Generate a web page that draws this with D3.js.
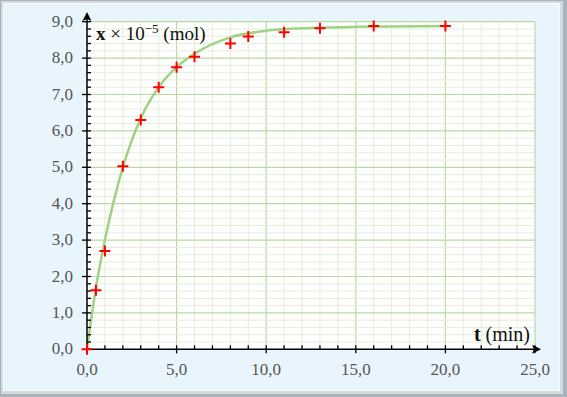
<!DOCTYPE html>
<meta charset="utf-8">
<style>
body { margin: 0; }
.tick-label { fill: #555; font-size: 17px; }
.minor { stroke: #e3efd6; stroke-width: 1; }
.major { stroke: #b9d9a0; stroke-width: 1.2; }
</style>
<svg width="567" height="397"></svg>
<script src="https://cdn.jsdelivr.net/npm/d3@7"></script>
<script>

// measured points (t in min, x in 1e-5 mol)
var tMeas = [0, 0.5, 1, 2, 3, 4, 5, 6, 8, 9, 11, 13, 16, 20];
var xMeas = [0, 1.62, 2.7, 5.03, 6.3, 7.2, 7.75, 8.04, 8.4, 8.59, 8.71, 8.82, 8.88, 8.88];

// smooth trend line
var tCurve = [0, 0.5, 1, 2, 3, 4, 5, 6, 8, 10, 12, 15, 20];
var xCurve = [0, 1.7, 3.0, 5.0, 6.35, 7.2, 7.75, 8.12, 8.57, 8.75, 8.82, 8.86, 8.88];

var xTicks = [0, 5, 10, 15, 20, 25];
var yTicks = [0, 1, 2, 3, 4, 5, 6, 7, 8, 9];

var serif = "'Liberation Serif', 'Times New Roman', Tinos, serif";

var svg = d3.select("svg");

var fmt = function(d) { return d.toFixed(1).replace(".", ","); };

var x = d3.scaleLinear().domain([0, 25]).range([87, 535]);
var y = d3.scaleLinear().domain([0, 9]).range([349.3, 21.7]);

// panel background with bevel
svg.append("rect").attr("x", 0).attr("y", 0).attr("width", 567).attr("height", 397).attr("fill", "#a9b3bc");
svg.append("rect").attr("x", 1).attr("y", 1).attr("width", 562).attr("height", 393).attr("fill", "#d3dae0");
svg.append("rect").attr("x", 3).attr("y", 3).attr("width", 557).attr("height", 388).attr("fill", "#f5fbff");
svg.append("rect").attr("x", 4).attr("y", 4).attr("width", 555).attr("height", 386).attr("fill", "#e8f5fc");

// plot area
svg.append("rect")
    .attr("x", x(0)).attr("y", y(9))
    .attr("width", x(25) - x(0)).attr("height", y(0) - y(9))
    .attr("fill", "#fff");

var grid = svg.append("g");

grid.selectAll(".gx").data(d3.range(1, 26))
  .enter().append("line")
    .attr("class", function(d) { return d % 5 === 0 ? "major" : "minor"; })
    .attr("x1", function(d) { return x(d); })
    .attr("x2", function(d) { return x(d); })
    .attr("y1", y(0)).attr("y2", y(9));

grid.selectAll(".gy").data(d3.range(1, 46))
  .enter().append("line")
    .attr("class", function(d) { return d % 5 === 0 ? "major" : "minor"; })
    .attr("y1", function(d) { return y(d / 5); })
    .attr("y2", function(d) { return y(d / 5); })
    .attr("x1", x(0)).attr("x2", x(25));

// trend curve
var line = d3.line()
    .x(function(d) { return x(d[0]); })
    .y(function(d) { return y(d[1]); })
    .curve(d3.curveMonotoneX);

svg.append("path")
    .datum(d3.zip(tCurve, xCurve))
    .attr("d", line)
    .attr("fill", "none")
    .attr("stroke", "#9fd283")
    .attr("stroke-width", 2.5);

// axes
var axes = svg.append("g").attr("stroke", "#000");

axes.append("line").attr("x1", x(0)).attr("x2", 538).attr("y1", y(0)).attr("y2", y(0)).attr("stroke-width", 1.5);
axes.append("line").attr("x1", x(0)).attr("x2", x(0)).attr("y1", y(0)).attr("y2", 15).attr("stroke-width", 1.5);

svg.append("path")
    .attr("d", "M" + 541 + "," + y(0) + "l-9,-4.5l2,4.5l-2,4.5z")
    .attr("fill", "#000");
svg.append("path")
    .attr("d", "M" + x(0) + ",12l-4.5,9l4.5,-2l4.5,2z")
    .attr("fill", "#000");

axes.selectAll(".tx").data(d3.range(1, 26))
  .enter().append("line")
    .attr("x1", function(d) { return x(d); })
    .attr("x2", function(d) { return x(d); })
    .attr("y1", function(d) { return d % 5 === 0 ? y(0) + 4 : y(0); })
    .attr("y2", y(0) - 4)
    .attr("stroke-width", 1.3);

axes.selectAll(".ty").data(d3.range(1, 46))
  .enter().append("line")
    .attr("y1", function(d) { return y(d / 5); })
    .attr("y2", function(d) { return y(d / 5); })
    .attr("x1", function(d) { return d % 5 === 0 ? x(0) - 5 : x(0); })
    .attr("x2", x(0) + 4)
    .attr("stroke-width", 1.3);

// tick labels
svg.selectAll(".xl").data(xTicks)
  .enter().append("text")
    .attr("class", "tick-label")
    .style("font-family", serif)
    .attr("x", function(d) { return x(d); })
    .attr("y", y(0) + 26)
    .attr("text-anchor", "middle")
    .text(fmt);

svg.selectAll(".yl").data(yTicks)
  .enter().append("text")
    .attr("class", "tick-label")
    .style("font-family", serif)
    .attr("x", x(0) - 14)
    .attr("y", function(d) { return y(d) + 5; })
    .attr("text-anchor", "end")
    .text(fmt);

// axis titles
var yt = svg.append("text").style("font-family", serif).attr("x", 96).attr("y", 40).attr("font-size", 19).attr("fill", "#111");
yt.append("tspan").attr("font-weight", "bold").text("x");
yt.append("tspan").text(" × 10");
yt.append("tspan").attr("dy", -7).attr("font-size", 13).text("−5");
yt.append("tspan").attr("dy", 7).text(" (mol)");

var xt = svg.append("text").style("font-family", serif).attr("x", 530).attr("y", 341).attr("font-size", 20).attr("fill", "#111").attr("text-anchor", "end");
xt.append("tspan").attr("font-weight", "bold").text("t");
xt.append("tspan").text(" (min)");

// measured points as red crosses
svg.selectAll(".pt").data(d3.zip(tMeas, xMeas))
  .enter().append("path")
    .attr("d", function(d) {
      var cx = x(d[0]), cy = y(d[1]);
      return "M" + (cx - 5.5) + "," + cy + "h11M" + cx + "," + (cy - 5.5) + "v11";
    })
    .attr("stroke", "#ff0000")
    .attr("stroke-width", 2);

</script>
